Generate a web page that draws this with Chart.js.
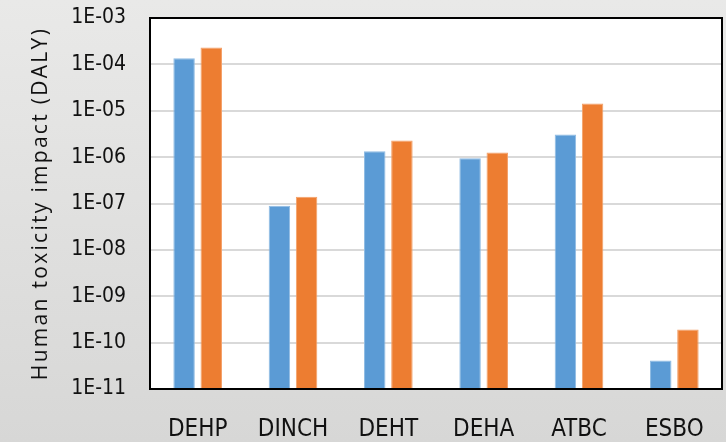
<!DOCTYPE html>
<html>
<head>
<meta charset="utf-8">
<script src="https://cdn.jsdelivr.net/npm/chart.js@4/dist/chart.umd.min.js"></script>
<style>
  html, body { margin: 0; padding: 0; background: #e2e2e0; }
  #wrap { width: 726px; height: 442px; position: relative; }
</style>
</head>
<body>
<div id="wrap"><canvas id="c" width="726" height="442"></canvas></div>
<script>
// Plasticizers compared
const categories = ['DEHP', 'DINCH', 'DEHT', 'DEHA', 'ATBC', 'ESBO'];

// Human toxicity impact, DALY
const seriesA = [1.35e-4, 8.9e-8, 1.34e-6, 9.5e-7, 3.06e-6, 4.1e-11];
const seriesB = [2.3e-4, 1.39e-7, 2.27e-6, 1.26e-6, 1.43e-5, 1.92e-10];

// Decade ticks on the log axis
const yTicks = [1e-11, 1e-10, 1e-9, 1e-8, 1e-7, 1e-6, 1e-5, 1e-4, 1e-3];

const yTitle = 'Human toxicity impact (DALY)';

const NARROW = '"Liberation Sans Narrow", "Arial Narrow", "DejaVu Sans Condensed", sans-serif';
const TITLE_FONT = '"Open Sans", "Noto Sans", sans-serif';

function sci(v) {
  const e = Math.round(Math.log10(v));
  const s = Math.abs(e) < 10 ? '0' + Math.abs(e) : String(Math.abs(e));
  return '1E' + (e < 0 ? '-' : '+') + s;
}

// Grey page behind the chart, white plotting area, black frame, spaced axis title
const backdrop = {
  id: 'backdrop',
  beforeDraw(chart) {
    const { ctx, width, height, chartArea: a } = chart;
    ctx.save();
    const g = ctx.createLinearGradient(0, 0, 0, height);
    g.addColorStop(0, '#e9e9e8');
    g.addColorStop(1, '#d7d7d6');
    ctx.fillStyle = g;
    ctx.fillRect(0, 0, width, height);
    ctx.fillStyle = '#ffffff';
    ctx.fillRect(a.left, a.top, a.right - a.left, a.bottom - a.top);
    ctx.restore();
  },
  afterDraw(chart) {
    const { ctx, chartArea: a } = chart;
    ctx.save();
    ctx.strokeStyle = '#000000';
    ctx.lineWidth = 2;
    ctx.strokeRect(a.left, a.top, a.right - a.left, a.bottom - a.top);
    ctx.restore();

    ctx.save();
    ctx.translate(47, (a.top + a.bottom) / 2);
    ctx.rotate(-Math.PI / 2);
    ctx.font = '21px ' + TITLE_FONT;
    if ('letterSpacing' in ctx) ctx.letterSpacing = '2.3px';
    ctx.fillStyle = '#111111';
    ctx.textAlign = 'center';
    ctx.textBaseline = 'alphabetic';
    ctx.fillText(yTitle, 0, 0);
    ctx.restore();
  }
};

new Chart(document.getElementById('c'), {
  type: 'bar',
  data: {
    labels: categories,
    datasets: [
      { data: seriesA, backgroundColor: '#5b9bd5', borderColor: '#8fbbe3', borderWidth: 1,
        barPercentage: 0.79, categoryPercentage: 0.57 },
      { data: seriesB, backgroundColor: '#ed7d31', borderColor: '#f4a068', borderWidth: 1,
        barPercentage: 0.79, categoryPercentage: 0.57 }
    ]
  },
  options: {
    responsive: false,
    animation: false,
    layout: { padding: { top: 18, right: 4, left: 0, bottom: 0 } },
    plugins: { legend: { display: false }, tooltip: { enabled: false } },
    scales: {
      x: {
        grid: { display: false, drawTicks: false },
        border: { display: false },
        ticks: { color: '#111111', font: { family: NARROW, size: 24 }, padding: 26 },
        afterFit(s) { s.height = 53; s.paddingLeft = 0; s.paddingRight = 0; }
      },
      y: {
        type: 'logarithmic',
        min: 1e-11,
        max: 1e-3,
        afterBuildTicks(s) { s.ticks = yTicks.map(v => ({ value: v })); },
        grid: { color: '#d9d9d9', lineWidth: 2, drawTicks: false },
        border: { display: false },
        ticks: {
          color: '#111111', font: { family: NARROW, size: 21 }, padding: 24,
          callback: (v) => sci(v)
        },
        afterFit(s) { s.width = 150; s.paddingTop = 0; s.paddingBottom = 0; }
      }
    }
  },
  plugins: [backdrop]
});
</script>
</body>
</html>
